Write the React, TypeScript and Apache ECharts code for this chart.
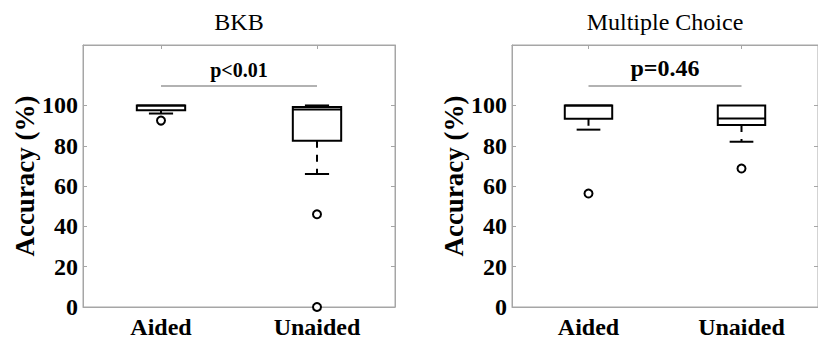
import React, { useEffect, useRef } from "react";
import * as echarts from "echarts";

const categories = ["Aided", "Unaided"];
const panelTitles = ["BKB", "Multiple Choice"];
const pLabels = ["p<0.01", "p=0.46"];
const yTicks = [0, 20, 40, 60, 80, 100];
// [min whisker, Q1, median, Q3, max whisker]
const bkbBoxes = [
  [96, 97.6, 100, 100, 100],
  [66, 82.5, 98, 99.2, 100],
];
const mcBoxes = [
  [88, 93.4, 100, 100, 100],
  [82, 90.3, 93.5, 100, 100],
];
// [category index, value]
const bkbOutliers = [
  [0, 92.5],
  [1, 46],
  [1, 0],
];
const mcOutliers = [
  [0, 56.3],
  [1, 68.7],
];
const sigLevel = 110;

const FONT = "'Liberation Serif', 'Times New Roman', serif";
const AXIS_GRAY = "#a6a6a6";

function renderBox(params: any, api: any) {
  const x = api.value(0);
  const mn = api.value(1);
  const q1 = api.value(2);
  const med = api.value(3);
  const q3 = api.value(4);
  const mx = api.value(5);
  const band = api.size([1, 0])[0];
  const bw = band * 0.31;
  const cw = bw * 0.5;
  const pMn = api.coord([x, mn]);
  const pQ1 = api.coord([x, q1]);
  const pMed = api.coord([x, med]);
  const pQ3 = api.coord([x, q3]);
  const pMx = api.coord([x, mx]);
  const cx = pQ1[0];
  const stroke = { stroke: "#000", lineWidth: 2, fill: "none" };
  const dash = { stroke: "#000", lineWidth: 2, lineDash: [7, 7] };
  const children: any[] = [];
  if (mn < q1) {
    children.push({
      type: "line",
      shape: { x1: cx, y1: pQ1[1], x2: cx, y2: pMn[1] },
      style: dash,
    });
    children.push({
      type: "line",
      shape: { x1: cx - cw / 2, y1: pMn[1], x2: cx + cw / 2, y2: pMn[1] },
      style: stroke,
    });
  }
  if (mx > q3) {
    children.push({
      type: "line",
      shape: { x1: cx, y1: pQ3[1], x2: cx, y2: pMx[1] },
      style: dash,
    });
    children.push({
      type: "line",
      shape: { x1: cx - cw / 2, y1: pMx[1], x2: cx + cw / 2, y2: pMx[1] },
      style: stroke,
    });
  }
  children.push({
    type: "rect",
    shape: { x: cx - bw / 2, y: pQ3[1], width: bw, height: pQ1[1] - pQ3[1] },
    style: stroke,
  });
  children.push({
    type: "line",
    shape: { x1: cx - bw / 2, y1: pMed[1], x2: cx + bw / 2, y2: pMed[1] },
    style: stroke,
  });
  return { type: "group", children };
}

export default function App() {
  const ref = useRef<HTMLDivElement>(null);
  useEffect(() => {
    document.body.style.margin = "0";
    const chart = echarts.init(ref.current!, undefined, { renderer: "svg" });
    const gridStyle = { show: true, borderColor: AXIS_GRAY, borderWidth: 1, backgroundColor: "transparent" };
    const grids = [
      { left: 83, top: 45, width: 312, height: 262, ...gridStyle },
      { left: 512, top: 45, width: 312, height: 262, ...gridStyle },
    ];
    const xAxes: any[] = [];
    const yAxes: any[] = [];
    const series: any[] = [];
    const boxSets = [bkbBoxes, mcBoxes];
    const outSets = [bkbOutliers, mcOutliers];
    const pSizes = [20, 24];
    for (let g = 0; g < 2; g++) {
      xAxes.push({
        type: "category",
        gridIndex: g,
        data: categories,
        position: "bottom",
        axisLine: { onZero: false, lineStyle: { color: AXIS_GRAY, width: 1 } },
        axisTick: { inside: true, alignWithLabel: true, length: 4, lineStyle: { color: AXIS_GRAY } },
        axisLabel: { color: "#000", fontFamily: FONT, fontWeight: "bold", fontSize: 24, margin: 8 },
        splitLine: { show: false },
      });
      xAxes.push({
        type: "category",
        gridIndex: g,
        data: categories,
        position: "top",
        name: panelTitles[g],
        nameLocation: "middle",
        nameGap: 11,
        nameTextStyle: { color: "#000", fontFamily: FONT, fontSize: 24 },
        axisLine: { show: true, onZero: false, lineStyle: { color: AXIS_GRAY, width: 1 } },
        axisTick: { show: true, inside: true, alignWithLabel: true, length: 4, lineStyle: { color: AXIS_GRAY } },
        axisLabel: { show: false },
        splitLine: { show: false },
      });
      yAxes.push({
        type: "value",
        gridIndex: g,
        min: 0,
        max: 130,
        position: "left",
        name: "Accuracy (%)",
        nameLocation: "middle",
        nameGap: 45,
        nameTextStyle: { color: "#000", fontFamily: FONT, fontWeight: "bold", fontSize: 27 },
        axisLine: { show: true, onZero: false, lineStyle: { color: AXIS_GRAY, width: 1 } },
        axisTick: { show: true, inside: true, length: 4, customValues: yTicks, lineStyle: { color: AXIS_GRAY } },
        axisLabel: { color: "#000", fontFamily: FONT, fontWeight: "bold", fontSize: 24, margin: 5, customValues: yTicks },
        splitLine: { show: false },
      });
      yAxes.push({
        type: "value",
        gridIndex: g,
        min: 0,
        max: 130,
        position: "right",
        axisLine: { show: true, onZero: false, lineStyle: { color: AXIS_GRAY, width: 1 } },
        axisTick: { show: true, inside: true, length: 4, customValues: yTicks, lineStyle: { color: AXIS_GRAY } },
        axisLabel: { show: false },
        splitLine: { show: false },
      });
      series.push({
        type: "custom",
        xAxisIndex: g * 2,
        yAxisIndex: g * 2,
        renderItem: renderBox,
        clip: false,
        data: boxSets[g].map((b, i) => [i, ...b]),
        encode: { x: 0, y: [1, 2, 3, 4, 5] },
        z: 3,
      });
      series.push({
        type: "scatter",
        xAxisIndex: g * 2,
        yAxisIndex: g * 2,
        symbol: "circle",
        symbolSize: 8,
        clip: false,
        itemStyle: { color: "#fff", borderColor: "#000", borderWidth: 2, opacity: 1 },
        data: outSets[g],
        z: 4,
        markLine: {
          silent: true,
          symbol: ["none", "none"],
          lineStyle: { color: "#999", width: 1.5, type: "solid" },
          label: {
            show: true,
            position: "middle",
            formatter: pLabels[g],
            color: "#000",
            fontFamily: FONT,
            fontWeight: "bold",
            fontSize: pSizes[g],
            distance: 5,
          },
          data: [[{ coord: [0, sigLevel] }, { coord: [1, sigLevel] }]],
        },
      });
    }
    chart.setOption({
      animation: false,
      backgroundColor: "#fff",
      grid: grids,
      xAxis: xAxes,
      yAxis: yAxes,
      series,
    });
    return () => chart.dispose();
  }, []);
  return <div ref={ref} style={{ width: 818, height: 340 }} />;
}
